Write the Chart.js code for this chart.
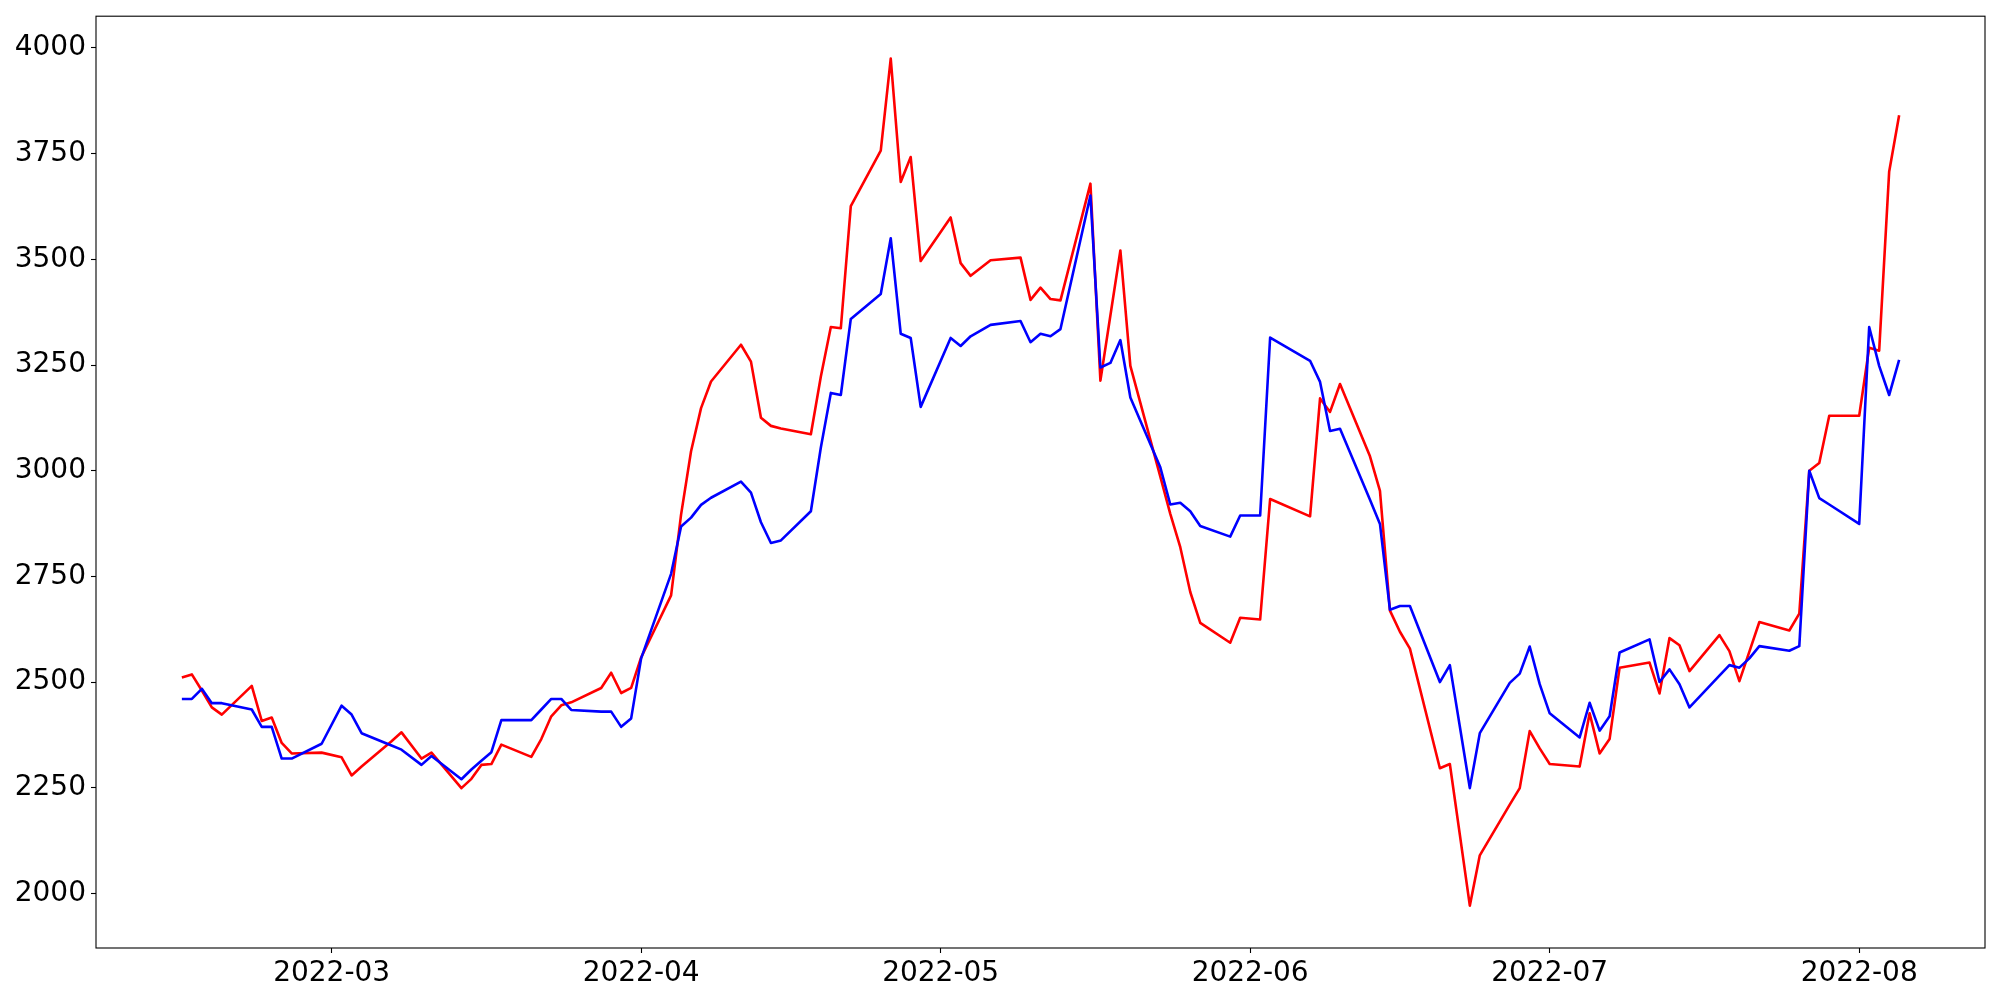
<!DOCTYPE html>
<html>
<head>
<meta charset="utf-8">
<script src="https://cdn.jsdelivr.net/npm/chart.js@4.4.1/dist/chart.umd.min.js"></script>
<style>
  html, body { margin: 0; padding: 0; background: #fff; }
  #chart { display: block; }
</style>
</head>
<body>
<canvas id="chart" width="2000" height="1000"></canvas>
<script>
// trading days shown on the chart
const dates = [
    '2022-02-14', '2022-02-15', '2022-02-16', '2022-02-17', '2022-02-18', '2022-02-21', '2022-02-22', '2022-02-23', '2022-02-24', '2022-02-25', '2022-02-28',
    '2022-03-02', '2022-03-03', '2022-03-04', '2022-03-07', '2022-03-08', '2022-03-10', '2022-03-11', '2022-03-14', '2022-03-15', '2022-03-16', '2022-03-17',
    '2022-03-18', '2022-03-21', '2022-03-22', '2022-03-23', '2022-03-24', '2022-03-25', '2022-03-28', '2022-03-29', '2022-03-30', '2022-03-31',
    '2022-04-01', '2022-04-04', '2022-04-05', '2022-04-06', '2022-04-07', '2022-04-08', '2022-04-11', '2022-04-12', '2022-04-13', '2022-04-14', '2022-04-15',
    '2022-04-18', '2022-04-19', '2022-04-20', '2022-04-21', '2022-04-22', '2022-04-25', '2022-04-26', '2022-04-27', '2022-04-28', '2022-04-29',
    '2022-05-02', '2022-05-03', '2022-05-04', '2022-05-06', '2022-05-09', '2022-05-10', '2022-05-11', '2022-05-12', '2022-05-13', '2022-05-16', '2022-05-17',
    '2022-05-18', '2022-05-19', '2022-05-20', '2022-05-23', '2022-05-24', '2022-05-25', '2022-05-26', '2022-05-27', '2022-05-30', '2022-05-31',
    '2022-06-02', '2022-06-03', '2022-06-07', '2022-06-08', '2022-06-09', '2022-06-10', '2022-06-13', '2022-06-14', '2022-06-15', '2022-06-16', '2022-06-17',
    '2022-06-20', '2022-06-21', '2022-06-22', '2022-06-23', '2022-06-24', '2022-06-27', '2022-06-28', '2022-06-29', '2022-06-30',
    '2022-07-01', '2022-07-04', '2022-07-05', '2022-07-06', '2022-07-07', '2022-07-08', '2022-07-11', '2022-07-12', '2022-07-13', '2022-07-14', '2022-07-15',
    '2022-07-18', '2022-07-19', '2022-07-20', '2022-07-21', '2022-07-22', '2022-07-25', '2022-07-26', '2022-07-27', '2022-07-28', '2022-07-29',
    '2022-08-01', '2022-08-02', '2022-08-03', '2022-08-04', '2022-08-05'
];

const redValues = [
    2511, 2518, 2480, 2440, 2423, 2491, 2408, 2416, 2356, 2331, 2333,
    2322, 2279, 2300, 2360, 2381, 2319, 2333, 2249, 2271, 2304, 2306,
    2352, 2323, 2365, 2419, 2445, 2452, 2486, 2522, 2474, 2486,
    2558, 2705, 2896, 3046, 3148, 3211, 3298, 3258, 3125, 3106, 3100,
    3086, 3223, 3340, 3337, 3626, 3757, 3975, 3683, 3742, 3496,
    3599, 3491, 3461, 3498, 3504, 3404, 3433, 3406, 3403, 3679, 3213,
    3367, 3521, 3248, 2986, 2898, 2819, 2713, 2640, 2593, 2652,
    2648, 2933, 2892, 3171, 3139, 3205, 3034, 2952, 2669, 2619, 2579,
    2296, 2306, 2139, 1971, 2090, 2210, 2249, 2384, 2343,
    2306, 2300, 2426, 2331, 2365, 2534, 2546, 2473, 2604, 2587, 2526,
    2611, 2573, 2502, 2572, 2642, 2622, 2662, 3000, 3018, 3130,
    3130, 3291, 3284, 3707, 3841
];

const blueValues = [
    2460, 2460, 2484, 2450, 2450, 2435, 2394, 2394, 2319, 2319, 2354,
    2444, 2423, 2379, 2350, 2340, 2304, 2325, 2270, 2293, 2314, 2334,
    2410, 2410, 2435, 2460, 2460, 2434, 2430, 2430, 2394, 2414,
    2556, 2756, 2868, 2889, 2919, 2936, 2974, 2948, 2878, 2829, 2835,
    2904, 3055, 3184, 3179, 3359, 3418, 3550, 3324, 3314, 3151,
    3314, 3295, 3318, 3345, 3354, 3304, 3324, 3318, 3335, 3651, 3244,
    3255, 3309, 3173, 3008, 2920, 2924, 2904, 2869, 2844, 2894,
    2894, 3315, 3260, 3210, 3094, 3099, 2931, 2874, 2671, 2680, 2680,
    2500, 2540, 2395, 2249, 2379, 2498, 2520, 2584, 2495,
    2426, 2369, 2451, 2385, 2419, 2570, 2601, 2500, 2530, 2495, 2440,
    2515, 2540, 2534, 2556, 2585, 2574, 2585, 3000, 2935, 2920,
    2874, 3340, 3248, 3179, 3262
];

const monthTicks = ['2022-03-01', '2022-04-01', '2022-05-01', '2022-06-01', '2022-07-01', '2022-08-01'];
const monthLabels = ['2022-03', '2022-04', '2022-05', '2022-06', '2022-07', '2022-08'];
const yTicks = [2000, 2250, 2500, 2750, 3000, 3250, 3500, 3750, 4000];

// date string -> day number
function toDay(s) {
    const [y, m, d] = s.split('-').map(Number);
    return Date.UTC(y, m - 1, d) / 86400000;
}

const days = dates.map(toDay);
const xPad = (days[days.length - 1] - days[0]) * 0.05;
const allValues = redValues.concat(blueValues);
const yLo = Math.min(...allValues);
const yHi = Math.max(...allValues);
const yPad = (yHi - yLo) * 0.05;

// small lineHeight on y labels so chart.js doesn't push the plot top down
const xFont = { family: 'DejaVu Sans', size: 28 };
const yFont = { family: 'DejaVu Sans', size: 28, lineHeight: 0.8 };

// black box round the plot area, like matplotlib spines
const framePlugin = {
    id: 'frame',
    afterDatasetsDraw(chart) {
        const a = chart.chartArea;
        const ctx = chart.ctx;
        ctx.save();
        ctx.strokeStyle = '#000';
        ctx.lineWidth = 1.1;
        ctx.strokeRect(a.left, a.top, a.right - a.left, a.bottom - a.top);
        ctx.restore();
    }
};

new Chart(document.getElementById('chart').getContext('2d'), {
    type: 'line',
    data: {
        datasets: [
            {
                data: days.map((d, i) => ({ x: d, y: redValues[i] })),
                borderColor: '#ff0000',
                borderWidth: 2.6,
                pointRadius: 0,
                tension: 0,
                fill: false,
                borderJoinStyle: 'round',
                order: 1
            },
            {
                data: days.map((d, i) => ({ x: d, y: blueValues[i] })),
                borderColor: '#0000ff',
                borderWidth: 2.6,
                pointRadius: 0,
                tension: 0,
                fill: false,
                borderJoinStyle: 'round',
                order: 0
            }
        ]
    },
    options: {
        responsive: false,
        animation: false,
        devicePixelRatio: 1,
        events: [],
        layout: { padding: { top: 15, right: 15, left: 0, bottom: 0 } },
        plugins: { legend: { display: false }, tooltip: { enabled: false } },
        scales: {
            x: {
                type: 'linear',
                min: days[0] - xPad,
                max: days[days.length - 1] + xPad,
                afterBuildTicks: axis => { axis.ticks = monthTicks.map(d => ({ value: toDay(d) })); },
                afterFit: scale => { scale.height = 52; },
                border: { display: false },
                grid: { drawOnChartArea: false, drawTicks: true, tickLength: 5, tickColor: '#000', tickWidth: 1.1 },
                ticks: {
                    color: '#000',
                    font: xFont,
                    padding: 4,
                    maxRotation: 0,
                    autoSkip: false,
                    callback: (value, index) => monthLabels[index]
                }
            },
            y: {
                type: 'linear',
                min: yLo - yPad,
                max: yHi + yPad,
                afterBuildTicks: axis => { axis.ticks = yTicks.map(v => ({ value: v })); },
                afterFit: scale => { scale.width = 96; },
                border: { display: false },
                grid: { drawOnChartArea: false, drawTicks: true, tickLength: 5, tickColor: '#000', tickWidth: 1.1 },
                ticks: {
                    color: '#000',
                    font: yFont,
                    padding: 5,
                    autoSkip: false,
                    callback: value => String(value)
                }
            }
        }
    },
    plugins: [framePlugin]
});
</script>
</body>
</html>
